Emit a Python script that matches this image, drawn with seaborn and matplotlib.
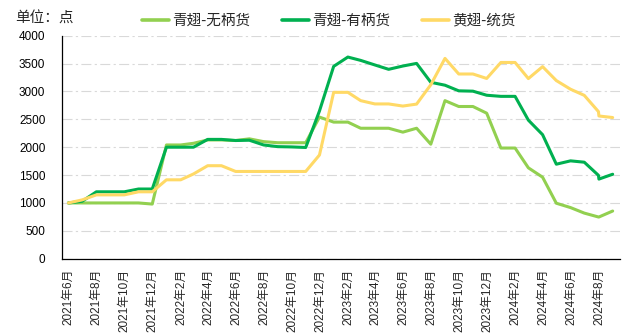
import matplotlib
matplotlib.use("Agg")
import matplotlib.pyplot as plt
import matplotlib.dates as mdates
from matplotlib.lines import Line2D
from matplotlib.ticker import FuncFormatter, NullFormatter, MultipleLocator
import pandas as pd
import seaborn as sns

# ---------------- data ----------------
dates = [
    "2021-06-15", "2021-07-15", "2021-08-15", "2021-09-15", "2021-10-15", "2021-11-15",
    "2021-12-15", "2022-01-15", "2022-02-15", "2022-03-15", "2022-04-15", "2022-05-15",
    "2022-06-15", "2022-07-15", "2022-08-15", "2022-09-15", "2022-10-15", "2022-11-15",
    "2022-12-15", "2023-01-15", "2023-02-15", "2023-03-15", "2023-04-15", "2023-05-15",
    "2023-06-15", "2023-07-15", "2023-08-15", "2023-09-15", "2023-10-15", "2023-11-15",
    "2023-12-15", "2024-01-15", "2024-02-15", "2024-03-15", "2024-04-15", "2024-05-15",
    "2024-06-15", "2024-07-15", "2024-08-15", "2024-08-16", "2024-09-15",
]

qing_wubing = [  # 青翅-无柄货
    1000, 1000, 1000, 1000, 1000, 1000, 980, 2040, 2040, 2070,
    2130, 2130, 2120, 2150, 2100, 2080, 2080, 2080, 2540, 2450,
    2450, 2340, 2340, 2340, 2270, 2340, 2054, 2835, 2730, 2730,
    2610, 1985, 1985, 1630, 1462, 995, 917, 818, 748, 748, 855,
]
qing_youbing = [  # 青翅-有柄货
    1000, 1030, 1200, 1200, 1200, 1250, 1250, 2000, 2000, 2000,
    2140, 2140, 2120, 2125, 2040, 2010, 2005, 1995, 2650, 3450,
    3617, 3557, 3475, 3397, 3456, 3503, 3164, 3112, 3011, 3005,
    2932, 2912, 2912, 2485, 2225, 1695, 1755, 1731, 1495, 1428, 1515,
]
huang_tong = [  # 黄翅-统货
    1000, 1055, 1145, 1145, 1145, 1200, 1200, 1415, 1415, 1520,
    1668, 1668, 1565, 1565, 1565, 1565, 1565, 1565, 1860, 2984,
    2984, 2835, 2776, 2776, 2738, 2773, 3120, 3593, 3313, 3313,
    3233, 3520, 3520, 3231, 3445, 3195, 3040, 2930, 2638, 2560, 2532,
]

series_names = ["青翅-无柄货", "青翅-有柄货", "黄翅-统货"]
series_colors = ["#92D050", "#00B050", "#FFD966"]
unit_text = "单位：点"
yticks = [0, 500, 1000, 1500, 2000, 2500, 3000, 3500, 4000]

# ---------------- build frame ----------------
frames = []
for name, vals in zip(series_names, [qing_wubing, qing_youbing, huang_tong]):
    frames.append(pd.DataFrame({"date": pd.to_datetime(dates), "value": vals, "series": name}))
df = pd.concat(frames, ignore_index=True)

# ---------------- style ----------------
sns.set_style("white")
plt.rcParams["font.family"] = ["Liberation Sans", "Noto Sans CJK SC", "DejaVu Sans"]
plt.rcParams["axes.unicode_minus"] = False

W, H = 634, 336
fig = plt.figure(figsize=(W / 100, H / 100), dpi=100)
left, right, top, bottom = 62, 620, 35.7, 258.7
ax = fig.add_axes([left / W, 1 - bottom / H, (right - left) / W, (bottom - top) / H])

sns.lineplot(
    data=df, x="date", y="value", hue="series",
    hue_order=series_names, palette=dict(zip(series_names, series_colors)),
    linewidth=2.2, estimator=None, legend=False, ax=ax,
)

# axes limits and ticks
ax.set_xlim(pd.Timestamp("2021-06-01"), pd.Timestamp("2024-10-01"))
ax.set_ylim(0, 4000)
ax.set_yticks(yticks)
ax.set_yticklabels([str(v) for v in yticks], fontsize=8.5, color="#000000")
ax.set_xlabel("")
ax.set_ylabel("")

even_months = [2, 4, 6, 8, 10, 12]
ax.xaxis.set_major_locator(mdates.MonthLocator(bymonth=even_months, bymonthday=1))
ax.xaxis.set_major_formatter(NullFormatter())
ax.xaxis.set_minor_locator(mdates.MonthLocator(bymonth=even_months, bymonthday=16))


def fmt(x, pos=None):
    d = mdates.num2date(x)
    return f"{d.year}年{d.month}月"


ax.xaxis.set_minor_formatter(FuncFormatter(fmt))
ax.tick_params(axis="x", which="major", direction="out", length=3.5, width=0.9, color="black")
ax.tick_params(axis="x", which="minor", length=0, pad=7.5, labelsize=8.5, labelrotation=90)
ax.tick_params(axis="y", which="major", direction="out", length=2.5, width=0.9, color="black",
               pad=9.5)

# grid
ax.yaxis.grid(True, color="#D9D9D9", linewidth=0.8, linestyle=(0, (9, 3, 2, 3)))
ax.xaxis.grid(False)
ax.set_axisbelow(True)

for s in ["top", "right"]:
    ax.spines[s].set_visible(False)
for s in ["left", "bottom"]:
    ax.spines[s].set_color("black")
    ax.spines[s].set_linewidth(0.9)

# header text
fig.text(15 / W, 1 - 19 / H, unit_text, fontsize=10.5, va="center", ha="left",
         family=["Noto Sans CJK SC", "DejaVu Sans"])

handles = [Line2D([0], [0], color=c, lw=2.6) for c in series_colors]
leg = fig.legend(
    handles, series_names, loc="center left", bbox_to_anchor=(141.5 / W, 1 - 20.7 / H),
    ncol=3, frameon=False, borderaxespad=0, borderpad=0,
    handlelength=1.9, handletextpad=0.2, columnspacing=2.15,
    prop={"family": ["Noto Sans CJK SC", "DejaVu Sans"], "size": 10.5},
)

fig.savefig("out.png", dpi=100)
